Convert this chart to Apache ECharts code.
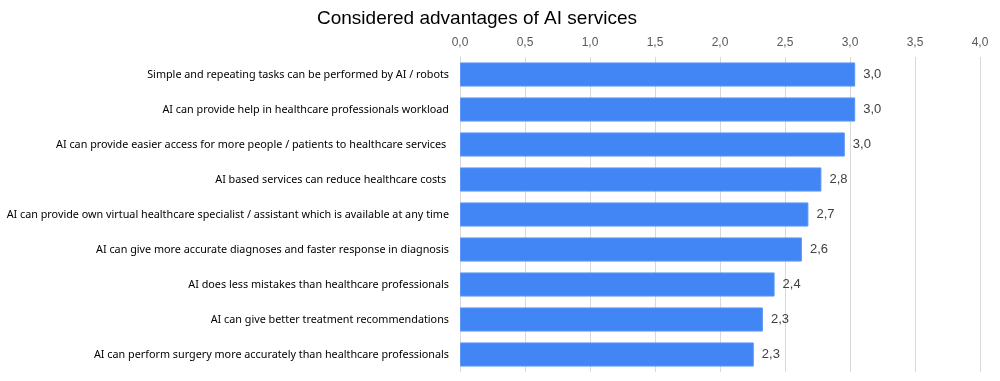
<!DOCTYPE html>
<html><head><meta charset="utf-8">
<script src="https://cdn.jsdelivr.net/npm/echarts@6/dist/echarts.min.js"></script>
<style>html,body{margin:0;padding:0;background:#fff}#c{width:1000px;height:381px}</style>
</head><body><div id="c"></div>
<script>
const title = 'Considered advantages of AI services';
const categories = [
  'Simple and repeating tasks can be performed by AI / robots',
  'AI can provide help in healthcare professionals workload',
  'AI can provide easier access for more people / patients to healthcare services ',
  'AI based services can reduce healthcare costs ',
  'AI can provide own virtual healthcare specialist / assistant which is available at any time',
  'AI can give more accurate diagnoses and faster response in diagnosis',
  'AI does less mistakes than healthcare professionals',
  'AI can give better treatment recommendations',
  'AI can perform surgery more accurately than healthcare professionals'
];
const values = [3.04, 3.04, 2.96, 2.78, 2.68, 2.63, 2.42, 2.33, 2.26];
const axisMin = 0, axisMax = 4, axisStep = 0.5;

const fmt = v => Number(v).toFixed(1).replace('.', ',');
const chart = echarts.init(document.getElementById('c'));
chart.setOption({
  animation: false,
  title: { text: title, left: 472, textAlign: 'center', top: 4,
    textStyle: { fontFamily: 'Liberation Sans', fontSize: 19, fontWeight: 'normal', color: '#000' } },
  grid: { left: 460, right: 20, top: 57, bottom: 9, containLabel: false, outerBoundsMode: 'none' },
  xAxis: { type: 'value', position: 'top', min: axisMin, max: axisMax, interval: axisStep,
    axisLine: { show: false }, axisTick: { show: false },
    splitLine: { show: true, lineStyle: { color: '#d9d9d9', width: 1 } },
    axisLabel: { formatter: fmt, fontFamily: 'Liberation Sans', fontSize: 12, color: '#595959', margin: 8 } },
  yAxis: { type: 'category', inverse: true, data: categories,
    axisLine: { show: true, lineStyle: { color: '#d9d9d9' } }, axisTick: { show: false },
    axisLabel: { fontFamily: 'Noto Sans', fontSize: 10.8, color: '#000', margin: 11 } },
  series: [{ type: 'bar', data: values, barCategoryGap: '31%',
    itemStyle: { color: '#4285f4', borderColor: '#5c97f6', borderWidth: 1 },
    label: { show: true, position: 'right', distance: 8, formatter: p => fmt(p.value),
      fontFamily: 'Liberation Sans', fontSize: 13, color: '#404040' } }]
});
</script></body></html>
